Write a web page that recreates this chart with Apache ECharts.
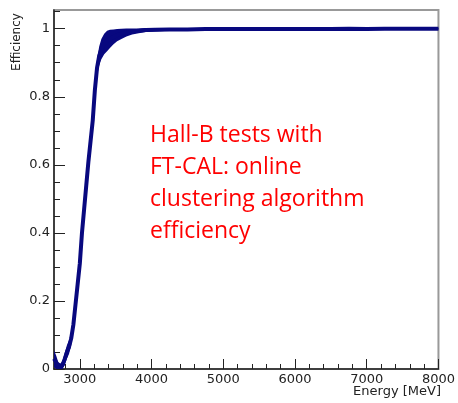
<!DOCTYPE html>
<html>
<head>
<meta charset="utf-8">
<title>Efficiency</title>
<script src="https://cdn.jsdelivr.net/npm/echarts@6/dist/echarts.min.js"></script>
<style>
  html, body { margin: 0; padding: 0; background: #fff; }
  #chartEff { width: 458px; height: 403px; }
</style>
</head>
<body>
<div id="chartEff"></div>
<script>
// energy bins (MeV) and measured efficiency
var energy = [2640, 2670, 2700, 2730, 2760, 2790, 2820, 2850, 2880, 2910, 2940, 2970, 3000,
  3030, 3060, 3090, 3120, 3150, 3180, 3210, 3240, 3270, 3300, 3340, 3380, 3420, 3470,
  3520, 3580, 3650, 3730, 3820, 3920, 4050, 4250, 4500, 4750, 5000, 5250, 5500, 5750,
  6000, 6250, 6500, 6750, 7000, 7250, 7500, 7750, 8000];
var efficiency = [0.03, 0.02, 0.008, 0.006, 0.012, 0.03, 0.05, 0.065, 0.09, 0.13, 0.19, 0.25, 0.31,
  0.40, 0.47, 0.54, 0.61, 0.67, 0.73, 0.82, 0.885, 0.92, 0.94, 0.955, 0.964, 0.97, 0.976,
  0.981, 0.985, 0.989, 0.992, 0.994, 0.996, 0.997, 0.998, 0.998, 0.999, 0.999, 0.999, 0.999, 0.999,
  0.999, 0.999, 0.999, 1.0, 0.999, 1.0, 1.0, 1.0, 1.0];
// error bar half width per bin
var errHalf = [0.025, 0.02, 0.012, 0.01, 0.012, 0.018, 0.02, 0.02, 0.02, 0.02, 0.02, 0.02, 0.02,
  0.02, 0.02, 0.02, 0.02, 0.02, 0.02, 0.02, 0.025, 0.028, 0.03, 0.03, 0.03, 0.027, 0.022,
  0.018, 0.015, 0.012, 0.009, 0.007, 0.006, 0.005, 0.004, 0.004, 0.003, 0.003, 0.003, 0.003, 0.003,
  0.002, 0.002, 0.002, 0.002, 0.002, 0.002, 0.002, 0.002, 0.002];

var xMajor = [3000, 4000, 5000, 6000, 7000, 8000];
var xMinor = [2800, 3200, 3400, 3600, 3800, 4200, 4400, 4600, 4800, 5200, 5400, 5600, 5800,
  6200, 6400, 6600, 6800, 7200, 7400, 7600, 7800];
var yMajor = [0, 0.2, 0.4, 0.6, 0.8, 1];
var yMinor = [0.05, 0.1, 0.15, 0.25, 0.3, 0.35, 0.45, 0.5, 0.55, 0.65, 0.7, 0.75, 0.85, 0.9, 0.95, 1.05];

var blue = '#08087f';
var axisFont = 'DejaVu Sans';

var midData = [], errData = [];
for (var i = 0; i < energy.length; i++) {
  midData.push([energy[i], efficiency[i]]);
  errData.push([energy[i], efficiency[i] - errHalf[i], efficiency[i] + errHalf[i]]);
}

// error band: one polygon, upper edge left->right then lower edge back
function renderBand(params, api) {
  if (params.dataIndex !== 0) return;
  var pts = [];
  for (var k = 0; k < errData.length; k++) pts.push(api.coord([errData[k][0], errData[k][2]]));
  for (var k = errData.length - 1; k >= 0; k--) pts.push(api.coord([errData[k][0], errData[k][1]]));
  return {
    type: 'polygon',
    shape: { points: pts },
    style: { fill: blue }
  };
}

var myChart = echarts.init(document.getElementById('chartEff'));
var option = {
  animation: false,
  grid: {
    left: 54, right: 18, top: 10, bottom: 34,
    show: true,
    borderColor: '#999',
    borderWidth: 2
  },
  xAxis: [
    {
      type: 'value', min: 2640, max: 8000,
      axisLine: { show: true, lineStyle: { color: '#222', width: 1.5 } },
      axisTick: { show: true, inside: true, length: 10, customValues: xMajor, lineStyle: { color: '#222' } },
      axisLabel: {
        customValues: xMajor, color: '#222', fontFamily: axisFont, fontSize: 13, margin: 4,
        formatter: function (v) { return String(v); }
      },
      splitLine: { show: false }
    },
    {
      type: 'value', min: 2640, max: 8000, position: 'bottom',
      axisLine: { show: false },
      axisTick: { show: true, inside: true, length: 5, customValues: xMinor, lineStyle: { color: '#222' } },
      axisLabel: { show: false },
      splitLine: { show: false }
    }
  ],
  yAxis: [
    {
      type: 'value', min: 0, max: 1.055,
      axisLine: { show: true, lineStyle: { color: '#222', width: 1.5 } },
      axisTick: { show: true, inside: true, length: 11, customValues: yMajor, lineStyle: { color: '#222' } },
      axisLabel: { customValues: yMajor, color: '#222', fontFamily: axisFont, fontSize: 13, margin: 4 },
      splitLine: { show: false }
    },
    {
      type: 'value', min: 0, max: 1.055, position: 'left',
      axisLine: { show: false },
      axisTick: { show: true, inside: true, length: 6, customValues: yMinor, lineStyle: { color: '#222' } },
      axisLabel: { show: false },
      splitLine: { show: false }
    }
  ],
  series: [
    {
      name: 'err', type: 'custom', data: errData,
      renderItem: renderBand, silent: true, clip: true,
      encode: { x: 0, y: [1, 2] }
    },
    {
      name: 'Efficiency', type: 'line', data: midData,
      symbol: 'none', lineStyle: { color: blue, width: 4 }
    }
  ],
  graphic: [
    {
      type: 'text', x: 17, y: 42, rotation: Math.PI / 2,
      style: { text: 'Efficiency', fontFamily: axisFont, fontSize: 12, fill: '#222', align: 'center', verticalAlign: 'middle' }
    },
    {
      type: 'text', x: 441, y: 392,
      style: { text: 'Energy [MeV]', fontFamily: axisFont, fontSize: 13, fill: '#222', align: 'right', verticalAlign: 'middle' }
    },
    {
      type: 'text', x: 150, y: 119,
      style: {
        text: 'Hall-B tests with\nFT-CAL: online\nclustering algorithm\nefficiency',
        fontFamily: 'Open Sans', fontSize: 23, lineHeight: 32, fill: '#ff0000'
      }
    }
  ]
};
myChart.setOption(option);
</script>
</body>
</html>
